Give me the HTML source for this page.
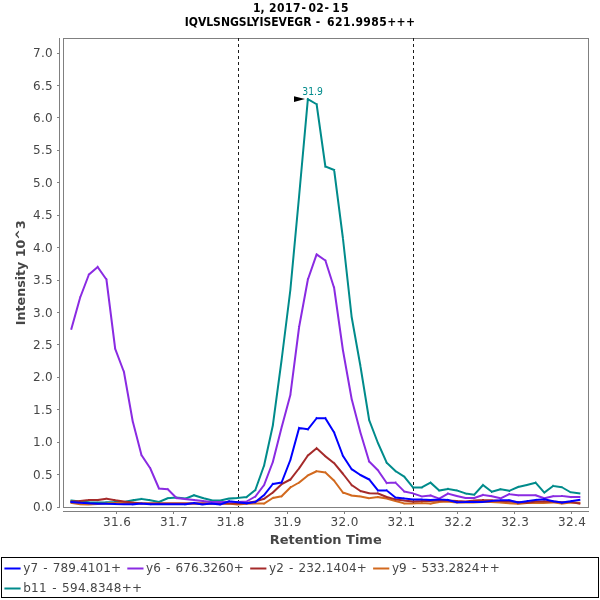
<!DOCTYPE html>
<html><head><meta charset="utf-8"><title>Chromatogram</title>
<style>
html,body{margin:0;padding:0;background:#fff;}
svg{display:block;}
text{font-family:"DejaVu Sans","Liberation Sans",sans-serif;}
.t{font-family:"DejaVu Sans Condensed","DejaVu Sans","Liberation Sans",sans-serif;font-weight:bold;font-size:12px;fill:#000;}
.d{letter-spacing:0.42px;}
.al{font-weight:bold;font-size:13px;fill:#464646;}
.tk{font-size:12px;fill:#464646;letter-spacing:0.35px;}
.lg{font-size:12px;fill:#464646;word-spacing:1.1px;letter-spacing:0.12px;}
</style></head><body>
<svg width="600" height="600" viewBox="0 0 600 600">
<rect x="0" y="0" width="600" height="600" fill="#ffffff"/>

<text class="t" y="11.8"><tspan x="253">1,</tspan> <tspan class="d" x="269.1">2017</tspan><tspan x="301.6">-</tspan><tspan class="d" x="308.4">02</tspan><tspan x="324.6">-</tspan><tspan class="d" x="332.2" style="letter-spacing:1.2px">15</tspan></text>
<text class="t" y="25.8"><tspan x="184.7">IQVLSNGSLYISEVEGR</tspan> <tspan x="315.7">-</tspan> <tspan class="d" x="327.1">621.9985+++</tspan></text>
<g shape-rendering="crispEdges" stroke="#808080" stroke-width="1" fill="none">
<rect x="63.5" y="38.5" width="525" height="469"/>
<line x1="59.5" y1="38" x2="59.5" y2="508"/>
<line x1="63" y1="511.5" x2="589" y2="511.5"/>
<line x1="57" y1="507.5" x2="59" y2="507.5"/>
<line x1="57" y1="474.5" x2="59" y2="474.5"/>
<line x1="57" y1="442.5" x2="59" y2="442.5"/>
<line x1="57" y1="409.5" x2="59" y2="409.5"/>
<line x1="57" y1="377.5" x2="59" y2="377.5"/>
<line x1="57" y1="344.5" x2="59" y2="344.5"/>
<line x1="57" y1="312.5" x2="59" y2="312.5"/>
<line x1="57" y1="280.5" x2="59" y2="280.5"/>
<line x1="57" y1="247.5" x2="59" y2="247.5"/>
<line x1="57" y1="215.5" x2="59" y2="215.5"/>
<line x1="57" y1="182.5" x2="59" y2="182.5"/>
<line x1="57" y1="150.5" x2="59" y2="150.5"/>
<line x1="57" y1="117.5" x2="59" y2="117.5"/>
<line x1="57" y1="85.5" x2="59" y2="85.5"/>
<line x1="57" y1="53.5" x2="59" y2="53.5"/>
<line x1="116.5" y1="512" x2="116.5" y2="514"/>
<line x1="173.5" y1="512" x2="173.5" y2="514"/>
<line x1="230.5" y1="512" x2="230.5" y2="514"/>
<line x1="287.5" y1="512" x2="287.5" y2="514"/>
<line x1="344.5" y1="512" x2="344.5" y2="514"/>
<line x1="400.5" y1="512" x2="400.5" y2="514"/>
<line x1="457.5" y1="512" x2="457.5" y2="514"/>
<line x1="514.5" y1="512" x2="514.5" y2="514"/>
<line x1="571.5" y1="512" x2="571.5" y2="514"/>
</g>
<g shape-rendering="crispEdges" stroke="#1c1c1c" stroke-width="1" stroke-dasharray="3,3">
<line x1="238.5" y1="38" x2="238.5" y2="507"/>
<line x1="413.5" y1="38" x2="413.5" y2="507"/>
</g>
<text class="tk" x="53.1" y="511.2" text-anchor="end">0.0</text>
<text class="tk" x="53.1" y="478.7" text-anchor="end">0.5</text>
<text class="tk" x="53.1" y="446.3" text-anchor="end">1.0</text>
<text class="tk" x="53.1" y="413.9" text-anchor="end">1.5</text>
<text class="tk" x="53.1" y="381.4" text-anchor="end">2.0</text>
<text class="tk" x="53.1" y="349.0" text-anchor="end">2.5</text>
<text class="tk" x="53.1" y="316.6" text-anchor="end">3.0</text>
<text class="tk" x="53.1" y="284.2" text-anchor="end">3.5</text>
<text class="tk" x="53.1" y="251.7" text-anchor="end">4.0</text>
<text class="tk" x="53.1" y="219.3" text-anchor="end">4.5</text>
<text class="tk" x="53.1" y="186.9" text-anchor="end">5.0</text>
<text class="tk" x="53.1" y="154.4" text-anchor="end">5.5</text>
<text class="tk" x="53.1" y="122.0" text-anchor="end">6.0</text>
<text class="tk" x="53.1" y="89.6" text-anchor="end">6.5</text>
<text class="tk" x="53.1" y="57.2" text-anchor="end">7.0</text>
<text class="tk" x="117.1" y="525.7" text-anchor="middle">31.6</text>
<text class="tk" x="174.0" y="525.7" text-anchor="middle">31.7</text>
<text class="tk" x="230.8" y="525.7" text-anchor="middle">31.8</text>
<text class="tk" x="287.7" y="525.7" text-anchor="middle">31.9</text>
<text class="tk" x="344.6" y="525.7" text-anchor="middle">32.0</text>
<text class="tk" x="401.5" y="525.7" text-anchor="middle">32.1</text>
<text class="tk" x="458.4" y="525.7" text-anchor="middle">32.2</text>
<text class="tk" x="515.2" y="525.7" text-anchor="middle">32.3</text>
<text class="tk" x="572.1" y="525.7" text-anchor="middle">32.4</text>
<text class="al" x="269.7" y="544.3" textLength="112" lengthAdjust="spacingAndGlyphs">Retention Time</text>
<text class="al" transform="translate(24.9,325.2) rotate(-90)" x="0" y="0" textLength="105" lengthAdjust="spacingAndGlyphs">Intensity 10^3</text>
<g>
<path d="M71.40 500.50L80.16 501.50 M80.16 501.50L88.92 502.30 M88.92 502.30L97.67 502.50 M97.67 502.50L106.43 502.30 M106.43 502.30L115.19 501.90 M115.19 501.90L123.95 501.90 M123.95 501.90L132.71 500.25 M132.71 500.25L141.46 499.00 M141.46 499.00L150.22 500.25 M150.22 500.25L158.98 502.00 M158.98 502.00L167.74 498.25 M167.74 498.25L176.50 497.60 M176.50 497.60L185.25 498.60 M185.25 498.60L194.01 495.25 M194.01 495.25L202.77 498.00 M202.77 498.00L211.53 500.25 M211.53 500.25L220.29 500.50 M220.29 500.50L229.04 498.60 M229.04 498.60L237.80 498.00 M237.80 498.00L246.56 497.00 M246.56 497.00L255.32 490.00 M255.32 490.00L264.08 465.50 M264.08 465.50L272.83 425.50 M272.83 425.50L281.59 360.00 M281.59 360.00L290.35 290.00 M290.35 290.00L299.11 196.00 M299.11 196.00L307.87 99.20 M307.87 99.20L316.62 104.25 M316.62 104.25L325.38 166.50 M325.38 166.50L334.14 170.00 M334.14 170.00L342.90 238.00 M342.90 238.00L351.66 317.00 M351.66 317.00L360.41 366.00 M360.41 366.00L369.17 420.00 M369.17 420.00L377.93 443.00 M377.93 443.00L386.69 462.60 M386.69 462.60L395.45 471.00 M395.45 471.00L404.20 476.60 M404.20 476.60L412.96 487.40 M412.96 487.40L421.72 487.40 M421.72 487.40L430.48 482.60 M430.48 482.60L439.24 490.60 M439.24 490.60L447.99 489.00 M447.99 489.00L456.75 490.40 M456.75 490.40L465.51 493.40 M465.51 493.40L474.27 494.70 M474.27 494.70L483.03 485.00 M483.03 485.00L491.78 491.70 M491.78 491.70L500.54 489.20 M500.54 489.20L509.30 490.80 M509.30 490.80L518.06 487.00 M518.06 487.00L526.82 485.00 M526.82 485.00L535.57 482.70 M535.57 482.70L544.33 492.60 M544.33 492.60L553.09 486.00 M553.09 486.00L561.85 487.25 M561.85 487.25L570.61 492.25 M570.61 492.25L579.36 493.40" fill="none" stroke="#008b8b" stroke-width="2" stroke-linecap="square"/>
<path d="M71.40 503.00L80.16 504.30 M80.16 504.30L88.92 504.50 M88.92 504.50L97.67 504.00 M97.67 504.00L106.43 503.50 M106.43 503.50L115.19 503.00 M115.19 503.00L123.95 503.00 M123.95 503.00L132.71 503.00 M132.71 503.00L141.46 503.20 M141.46 503.20L150.22 503.50 M150.22 503.50L158.98 503.50 M158.98 503.50L167.74 503.50 M167.74 503.50L176.50 503.50 M176.50 503.50L185.25 503.50 M185.25 503.50L194.01 503.50 M194.01 503.50L202.77 503.50 M202.77 503.50L211.53 503.50 M211.53 503.50L220.29 503.50 M220.29 503.50L229.04 503.70 M229.04 503.70L237.80 504.50 M237.80 504.50L246.56 503.70 M246.56 503.70L255.32 503.50 M255.32 503.50L264.08 503.50 M264.08 503.50L272.83 498.00 M272.83 498.00L281.59 496.25 M281.59 496.25L290.35 487.50 M290.35 487.50L299.11 482.50 M299.11 482.50L307.87 475.50 M307.87 475.50L316.62 471.25 M316.62 471.25L325.38 472.50 M325.38 472.50L334.14 480.75 M334.14 480.75L342.90 492.50 M342.90 492.50L351.66 495.50 M351.66 495.50L360.41 496.50 M360.41 496.50L369.17 498.20 M369.17 498.20L377.93 497.10 M377.93 497.10L386.69 498.60 M386.69 498.60L395.45 501.00 M395.45 501.00L404.20 503.40 M404.20 503.40L412.96 503.40 M412.96 503.40L421.72 503.00 M421.72 503.00L430.48 503.60 M430.48 503.60L439.24 502.00 M439.24 502.00L447.99 501.60 M447.99 501.60L456.75 502.40 M456.75 502.40L465.51 502.40 M465.51 502.40L474.27 502.50 M474.27 502.50L483.03 502.00 M483.03 502.00L491.78 502.00 M491.78 502.00L500.54 502.50 M500.54 502.50L509.30 503.30 M509.30 503.30L518.06 503.80 M518.06 503.80L526.82 503.00 M526.82 503.00L535.57 503.00 M535.57 503.00L544.33 503.00 M544.33 503.00L553.09 502.50 M553.09 502.50L561.85 503.60 M561.85 503.60L570.61 502.50 M570.61 502.50L579.36 502.75" fill="none" stroke="#d2691e" stroke-width="2" stroke-linecap="square"/>
<path d="M71.40 501.50L80.16 501.00 M80.16 501.00L88.92 500.00 M88.92 500.00L97.67 500.00 M97.67 500.00L106.43 498.70 M106.43 498.70L115.19 500.20 M115.19 500.20L123.95 501.60 M123.95 501.60L132.71 502.50 M132.71 502.50L141.46 503.40 M141.46 503.40L150.22 503.40 M150.22 503.40L158.98 503.40 M158.98 503.40L167.74 503.40 M167.74 503.40L176.50 503.40 M176.50 503.40L185.25 503.40 M185.25 503.40L194.01 503.40 M194.01 503.40L202.77 503.40 M202.77 503.40L211.53 503.40 M211.53 503.40L220.29 503.40 M220.29 503.40L229.04 503.40 M229.04 503.40L237.80 503.50 M237.80 503.50L246.56 503.00 M246.56 503.00L255.32 501.60 M255.32 501.60L264.08 498.75 M264.08 498.75L272.83 492.50 M272.83 492.50L281.59 484.25 M281.59 484.25L290.35 479.50 M290.35 479.50L299.11 468.25 M299.11 468.25L307.87 455.50 M307.87 455.50L316.62 448.25 M316.62 448.25L325.38 456.25 M325.38 456.25L334.14 463.25 M334.14 463.25L342.90 473.75 M342.90 473.75L351.66 485.00 M351.66 485.00L360.41 491.00 M360.41 491.00L369.17 493.20 M369.17 493.20L377.93 493.40 M377.93 493.40L386.69 497.00 M386.69 497.00L395.45 499.40 M395.45 499.40L404.20 500.60 M404.20 500.60L412.96 501.60 M412.96 501.60L421.72 501.00 M421.72 501.00L430.48 501.00 M430.48 501.00L439.24 500.60 M439.24 500.60L447.99 500.60 M447.99 500.60L456.75 501.00 M456.75 501.00L465.51 501.40 M465.51 501.40L474.27 500.50 M474.27 500.50L483.03 500.00 M483.03 500.00L491.78 500.30 M491.78 500.30L500.54 501.00 M500.54 501.00L509.30 501.50 M509.30 501.50L518.06 502.00 M518.06 502.00L526.82 502.75 M526.82 502.75L535.57 501.50 M535.57 501.50L544.33 501.20 M544.33 501.20L553.09 501.50 M553.09 501.50L561.85 502.20 M561.85 502.20L570.61 502.00 M570.61 502.00L579.36 503.50" fill="none" stroke="#a52a2a" stroke-width="2" stroke-linecap="square"/>
<path d="M71.40 328.75L80.16 297.50 M80.16 297.50L88.92 274.50 M88.92 274.50L97.67 267.00 M97.67 267.00L106.43 279.50 M106.43 279.50L115.19 348.75 M115.19 348.75L123.95 372.00 M123.95 372.00L132.71 421.25 M132.71 421.25L141.46 455.00 M141.46 455.00L150.22 468.25 M150.22 468.25L158.98 488.50 M158.98 488.50L167.74 489.25 M167.74 489.25L176.50 498.00 M176.50 498.00L185.25 499.00 M185.25 499.00L194.01 500.00 M194.01 500.00L202.77 501.00 M202.77 501.00L211.53 501.90 M211.53 501.90L220.29 501.90 M220.29 501.90L229.04 501.90 M229.04 501.90L237.80 502.00 M237.80 502.00L246.56 501.50 M246.56 501.50L255.32 496.50 M255.32 496.50L264.08 485.00 M264.08 485.00L272.83 462.00 M272.83 462.00L281.59 427.50 M281.59 427.50L290.35 395.00 M290.35 395.00L299.11 327.00 M299.11 327.00L307.87 279.50 M307.87 279.50L316.62 254.40 M316.62 254.40L325.38 260.50 M325.38 260.50L334.14 288.00 M334.14 288.00L342.90 350.00 M342.90 350.00L351.66 399.00 M351.66 399.00L360.41 432.50 M360.41 432.50L369.17 461.50 M369.17 461.50L377.93 470.30 M377.93 470.30L386.69 483.00 M386.69 483.00L395.45 482.60 M395.45 482.60L404.20 491.40 M404.20 491.40L412.96 493.40 M412.96 493.40L421.72 496.40 M421.72 496.40L430.48 495.40 M430.48 495.40L439.24 498.60 M439.24 498.60L447.99 493.60 M447.99 493.60L456.75 496.00 M456.75 496.00L465.51 497.90 M465.51 497.90L474.27 498.00 M474.27 498.00L483.03 495.00 M483.03 495.00L491.78 496.30 M491.78 496.30L500.54 498.30 M500.54 498.30L509.30 494.20 M509.30 494.20L518.06 495.30 M518.06 495.30L526.82 495.30 M526.82 495.30L535.57 495.30 M535.57 495.30L544.33 498.20 M544.33 498.20L553.09 496.25 M553.09 496.25L561.85 496.00 M561.85 496.00L570.61 497.10 M570.61 497.10L579.36 497.10" fill="none" stroke="#8a2be2" stroke-width="2" stroke-linecap="square"/>
<path d="M71.40 502.00L80.16 502.70 M80.16 502.70L88.92 503.30 M88.92 503.30L97.67 503.70 M97.67 503.70L106.43 503.80 M106.43 503.80L115.19 504.00 M115.19 504.00L123.95 504.30 M123.95 504.30L132.71 504.30 M132.71 504.30L141.46 503.50 M141.46 503.50L150.22 504.30 M150.22 504.30L158.98 504.30 M158.98 504.30L167.74 504.30 M167.74 504.30L176.50 504.30 M176.50 504.30L185.25 504.30 M185.25 504.30L194.01 503.10 M194.01 503.10L202.77 504.40 M202.77 504.40L211.53 503.50 M211.53 503.50L220.29 504.40 M220.29 504.40L229.04 501.25 M229.04 501.25L237.80 502.30 M237.80 502.30L246.56 503.30 M246.56 503.30L255.32 502.00 M255.32 502.00L264.08 495.00 M264.08 495.00L272.83 484.00 M272.83 484.00L281.59 482.50 M281.59 482.50L290.35 460.00 M290.35 460.00L299.11 428.00 M299.11 428.00L307.87 429.25 M307.87 429.25L316.62 418.25 M316.62 418.25L325.38 418.25 M325.38 418.25L334.14 432.50 M334.14 432.50L342.90 455.75 M342.90 455.75L351.66 469.20 M351.66 469.20L360.41 475.00 M360.41 475.00L369.17 479.50 M369.17 479.50L377.93 490.40 M377.93 490.40L386.69 490.40 M386.69 490.40L395.45 497.60 M395.45 497.60L404.20 498.40 M404.20 498.40L412.96 499.40 M412.96 499.40L421.72 499.40 M421.72 499.40L430.48 500.00 M430.48 500.00L439.24 499.40 M439.24 499.40L447.99 500.00 M447.99 500.00L456.75 502.20 M456.75 502.20L465.51 502.00 M465.51 502.00L474.27 502.00 M474.27 502.00L483.03 502.00 M483.03 502.00L491.78 501.00 M491.78 501.00L500.54 500.30 M500.54 500.30L509.30 500.30 M509.30 500.30L518.06 502.50 M518.06 502.50L526.82 501.20 M526.82 501.20L535.57 500.00 M535.57 500.00L544.33 499.30 M544.33 499.30L553.09 501.25 M553.09 501.25L561.85 502.50 M561.85 502.50L570.61 501.25 M570.61 501.25L579.36 500.00" fill="none" stroke="#0000ff" stroke-width="2" stroke-linecap="square"/>
</g>
<polygon points="294,96.2 305,99 294,102" fill="#000"/>
<text x="302.3" y="95" font-size="10" textLength="20.6" lengthAdjust="spacingAndGlyphs" fill="#008b8b">31.9</text>
<rect x="1.5" y="557.5" width="597" height="40" fill="#fff" stroke="#000" stroke-width="1" shape-rendering="crispEdges"/>
<line x1="5.4" y1="568.5" x2="19.6" y2="568.5" stroke="#0000ff" stroke-width="2" stroke-linecap="square"/>
<text class="lg" x="23.2" y="571.5">y7 - 789.4101+</text>
<line x1="128.3" y1="568.5" x2="142.5" y2="568.5" stroke="#8a2be2" stroke-width="2" stroke-linecap="square"/>
<text class="lg" x="146.1" y="571.5">y6 - 676.3260+</text>
<line x1="251.2" y1="568.5" x2="265.4" y2="568.5" stroke="#a52a2a" stroke-width="2" stroke-linecap="square"/>
<text class="lg" x="269.0" y="571.5">y2 - 232.1404+</text>
<line x1="374.1" y1="568.5" x2="388.3" y2="568.5" stroke="#d2691e" stroke-width="2" stroke-linecap="square"/>
<text class="lg" x="391.9" y="571.5">y9 - 533.2824++</text>
<line x1="5.4" y1="588.5" x2="19.6" y2="588.5" stroke="#008b8b" stroke-width="2" stroke-linecap="square"/>
<text class="lg" style="letter-spacing:0.3px" x="23.2" y="591.9">b11 - 594.8348++</text>
</svg></body></html>
